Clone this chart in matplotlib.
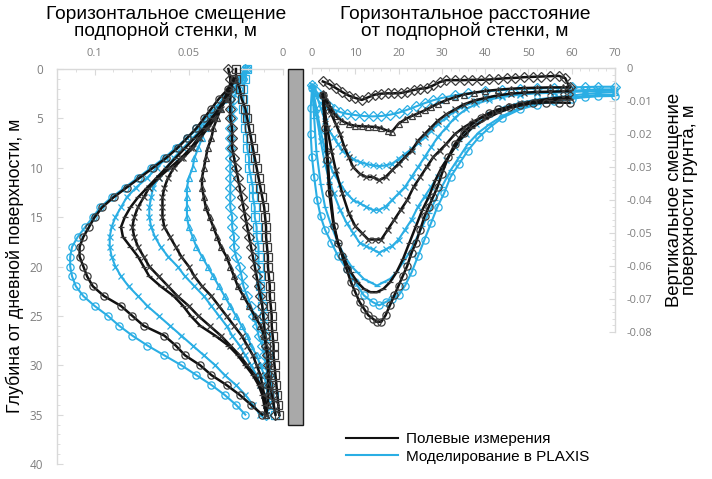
import numpy as np
import matplotlib
matplotlib.use("Agg")
import matplotlib.pyplot as plt
from matplotlib.lines import Line2D
from matplotlib.patches import Rectangle
from matplotlib.ticker import MultipleLocator

nan = np.nan

# ---------------- wall deflection profiles (left panel) ----------------
depth = [0, 1, 2, 3, 4, 5, 6, 7, 8, 9, 10, 11, 12, 13, 14, 15, 16, 17,
         18, 19, 20, 21, 22, 23, 24, 25, 26, 27, 28, 29, 30, 31, 32, 33, 34, 35]

wall_sq_meas = [0.025, 0.025, 0.023, 0.022, 0.020, 0.019, 0.018, 0.017, 0.016, 0.015, 0.014, 0.013,
                0.012, 0.011, 0.010, 0.0095, 0.009, 0.009, 0.0085, 0.008, 0.008, 0.0075, 0.007, 0.007,
                0.0065, 0.006, 0.006, 0.0055, 0.005, 0.005, 0.0045, 0.004, 0.0035, 0.003, 0.0025, 0.002]
wall_sq_fem = [0.019, 0.020, 0.021, 0.021, 0.021, 0.020, 0.020, 0.019, 0.019, 0.018, 0.018, 0.017,
               0.016, 0.016, 0.015, 0.015, 0.014, 0.014, 0.013, 0.013, 0.013, 0.012, 0.012, 0.011,
               0.011, 0.010, 0.010, 0.009, 0.009, 0.008, 0.007, 0.007, 0.006, 0.005, 0.005, 0.004]
wall_dia_meas = [0.029, 0.028, 0.028, 0.028, 0.028, 0.028, 0.027, 0.027, 0.027, 0.026, 0.025, 0.024,
                 0.023, 0.022, 0.021, 0.020, 0.019, 0.018, 0.017, 0.016, 0.015, 0.014, 0.013, 0.012,
                 0.011, 0.0105, 0.010, 0.0095, 0.009, 0.0085, 0.008, 0.0075, 0.007, 0.006, 0.005, 0.004]
wall_dia_fem = [0.020, 0.022, 0.024, 0.026, 0.027, 0.027, 0.028, 0.028, 0.028, 0.028, 0.028, 0.028,
                0.028, 0.028, 0.028, 0.027, 0.027, 0.026, 0.026, 0.025, 0.023, 0.022, 0.021, 0.019,
                0.017, 0.016, 0.014, 0.013, 0.011, 0.010, 0.009, 0.008, 0.008, 0.008, 0.008, 0.009]
wall_tri_meas = [nan, 0.027, 0.029, 0.031, 0.033, 0.035, 0.037, 0.038, 0.040, 0.041, 0.042, 0.043,
                 0.043, 0.042, 0.041, 0.039, 0.037, 0.035, 0.033, 0.030, 0.028, 0.026, 0.024, 0.021,
                 0.018, 0.015, 0.012, 0.010, 0.009, 0.008, 0.008, 0.008, 0.008, 0.008, 0.008, 0.009]
wall_tri_fem = [0.020, 0.024, 0.028, 0.032, 0.036, 0.039, 0.041, 0.043, 0.045, 0.047, 0.048, 0.050,
                0.051, 0.051, 0.051, 0.051, 0.050, 0.048, 0.046, 0.043, 0.040, 0.037, 0.034, 0.031,
                0.028, 0.025, 0.022, 0.019, 0.017, 0.014, 0.012, 0.010, 0.009, 0.008, 0.008, 0.009]
wall_x1_meas = [nan, 0.026, 0.028, 0.030, 0.033, 0.036, 0.040, 0.044, 0.048, 0.053, 0.058, 0.061,
                0.063, 0.064, 0.064, 0.064, 0.063, 0.060, 0.057, 0.054, 0.050, 0.047, 0.043, 0.038,
                0.034, 0.030, 0.026, 0.022, 0.019, 0.016, 0.014, 0.012, 0.011, 0.010, 0.009, 0.009]
wall_x1_fem = [0.020, 0.023, 0.026, 0.030, 0.034, 0.038, 0.043, 0.048, 0.053, 0.058, 0.062, 0.066,
               0.069, 0.070, 0.071, 0.071, 0.070, 0.068, 0.065, 0.061, 0.056, 0.052, 0.047, 0.042,
               0.038, 0.034, 0.030, 0.027, 0.023, 0.020, 0.017, 0.014, 0.012, 0.010, 0.009, 0.009]
wall_x2_meas = [nan, 0.026, 0.028, 0.031, 0.034, 0.037, 0.041, 0.045, 0.049, 0.054, 0.060, 0.066,
                0.071, 0.074, 0.077, 0.079, 0.080, 0.079, 0.077, 0.074, 0.071, 0.066, 0.061, 0.056,
                0.050, 0.045, 0.039, 0.033, 0.028, 0.023, 0.019, 0.015, 0.012, 0.010, 0.009, 0.009]
wall_x2_fem = [0.020, 0.022, 0.025, 0.029, 0.034, 0.039, 0.045, 0.051, 0.057, 0.062, 0.067, 0.072,
               0.078, 0.083, 0.086, 0.089, 0.091, 0.092, 0.092, 0.091, 0.089, 0.086, 0.082, 0.077,
               0.072, 0.066, 0.060, 0.054, 0.048, 0.042, 0.036, 0.031, 0.025, 0.020, 0.016, 0.012]
wall_dash_meas = [nan, 0.026, 0.028, 0.031, 0.034, 0.038, 0.042, 0.047, 0.052, 0.057, 0.062, 0.067,
                  0.072, 0.077, 0.081, 0.084, 0.086, 0.085, 0.081, 0.077, 0.074, 0.071, 0.065, 0.058,
                  0.053, 0.049, 0.044, 0.036, 0.029, 0.024, 0.020, 0.016, 0.013, 0.011, 0.010, 0.009]
wall_circ_meas = [nan, 0.026, 0.029, 0.034, 0.038, 0.042, 0.046, 0.051, 0.056, 0.062, 0.069, 0.076,
                  0.083, 0.090, 0.096, 0.100, 0.103, 0.106, 0.108, 0.108, 0.106, 0.104, 0.101, 0.095,
                  0.086, 0.080, 0.074, 0.063, 0.057, 0.052, 0.044, 0.038, 0.030, 0.023, 0.017, 0.011]
wall_circ_fem = [0.019, 0.021, 0.025, 0.031, 0.036, 0.041, 0.046, 0.051, 0.057, 0.063, 0.070, 0.077,
                 0.084, 0.091, 0.097, 0.101, 0.105, 0.109, 0.112, 0.113, 0.113, 0.112, 0.110, 0.106,
                 0.100, 0.093, 0.087, 0.080, 0.072, 0.063, 0.054, 0.046, 0.038, 0.031, 0.025, 0.020]

wall_depth = 36

# ---------------- surface settlement troughs (right panel) ----------------
dia_meas_x = [2.5, 4, 5.5, 7, 8.5, 10, 11.5, 13, 14.5, 16, 17.5, 19, 20.5, 22, 23.5, 25, 26.5, 28,
              29.5, 31, 33, 35, 37, 39, 41, 43, 45, 47, 49, 51, 53, 55, 57, 58.5, 59.5]
dia_meas_y = [-0.0040, -0.0048, -0.0060, -0.0072, -0.0083, -0.0090, -0.0096, -0.0088, -0.0080,
              -0.0077, -0.0076, -0.0076, -0.0075, -0.0071, -0.0066, -0.0062, -0.0060, -0.0052,
              -0.0042, -0.0036, -0.0036, -0.0036, -0.0035, -0.0035, -0.0034, -0.0032, -0.0030,
              -0.0029, -0.0027, -0.0026, -0.0025, -0.0024, -0.0023, -0.0030, -0.0058]
tri_meas_x = [2.5, 3.5, 4.5, 5.5, 7, 8.5, 10, 11.5, 13, 14.5, 16, 17.5, 18.5, 20, 21.5, 23, 24.5,
              26, 27.5, 29, 31, 33, 35, 37.5, 40, 43, 46, 49, 52, 55, 58, 59.5]
tri_meas_y = [-0.0075, -0.0100, -0.0125, -0.0145, -0.0160, -0.0170, -0.0175, -0.0176, -0.0177,
              -0.0178, -0.0182, -0.0190, -0.0192, -0.0168, -0.0155, -0.0145, -0.0137, -0.0128,
              -0.0118, -0.0108, -0.0097, -0.0088, -0.0080, -0.0074, -0.0069, -0.0065, -0.0062,
              -0.0060, -0.0059, -0.0058, -0.0058, -0.0058]
x1_meas_x = [2.5, 3.5, 4.5, 5.5, 6.5, 7.5, 8.5, 9.5, 11, 12.5, 14, 15.5, 17, 18.5, 20, 21.5, 23,
             24.5, 26, 27.5, 29, 31, 33, 35, 37.5, 40, 43, 46, 49, 52, 55, 58, 59.5]
x1_meas_y = [-0.008, -0.011, -0.014, -0.017, -0.020, -0.024, -0.027, -0.030, -0.032, -0.033,
             -0.033, -0.034, -0.033, -0.031, -0.029, -0.027, -0.025, -0.022, -0.020, -0.018,
             -0.016, -0.014, -0.0125, -0.011, -0.0098, -0.0090, -0.0082, -0.0077, -0.0074,
             -0.0072, -0.0071, -0.0070, -0.0070]
x2_meas_x = [2.5, 3, 3.5, 4.5, 5.5, 7, 8.5, 10, 11.5, 13, 14.5, 16, 17.5, 19, 20.5, 22, 23.5, 25,
             26.5, 28, 29.5, 31, 33, 35, 37.5, 40, 43, 46, 49, 52, 55, 58, 59.5]
x2_meas_y = [-0.008, -0.013, -0.018, -0.025, -0.031, -0.038, -0.044, -0.048, -0.050, -0.052,
             -0.052, -0.052, -0.049, -0.046, -0.043, -0.040, -0.036, -0.033, -0.030, -0.027,
             -0.025, -0.023, -0.020, -0.018, -0.016, -0.0145, -0.013, -0.0115, -0.0105, -0.0098,
             -0.0092, -0.0088, -0.0088]
dash_meas_x = [2.5, 3, 3.5, 4, 5, 6, 7.5, 9, 10.5, 12, 13.5, 15, 16.5, 18, 19.5, 21, 22.5, 24,
               25.5, 27, 28.5, 30, 32, 34, 37, 40, 43, 46, 49, 52, 55, 58, 59.5]
dash_meas_y = [-0.008, -0.016, -0.025, -0.035, -0.047, -0.053, -0.058, -0.062, -0.065, -0.067,
               -0.068, -0.068, -0.067, -0.065, -0.062, -0.058, -0.053, -0.048, -0.043, -0.039,
               -0.034, -0.030, -0.026, -0.022, -0.018, -0.0155, -0.0135, -0.012, -0.011, -0.0102,
               -0.0097, -0.0094, -0.0094]
circ_meas_x = [2.5, 3, 3.5, 4, 5, 6, 7, 8, 9, 10, 11, 12, 13, 14, 15, 16, 17, 18, 19, 20, 21, 22,
               23, 24, 25, 26, 27, 28, 29, 30, 31.5, 33, 35, 37, 39, 41, 43, 45.5, 48, 51, 54, 57, 59.5]
circ_meas_y = [-0.008, -0.018, -0.028, -0.038, -0.048, -0.053, -0.057, -0.061, -0.065, -0.068,
               -0.071, -0.073, -0.075, -0.076, -0.077, -0.077, -0.075, -0.072, -0.069, -0.066,
               -0.063, -0.060, -0.056, -0.053, -0.049, -0.045, -0.042, -0.039, -0.036, -0.032,
               -0.027, -0.023, -0.0195, -0.017, -0.015, -0.0135, -0.0125, -0.0117, -0.011,
               -0.0106, -0.0104, -0.0104, -0.0105]

dia_fem_x = [0, 1, 2, 3, 4, 5, 6.5, 8, 10, 12, 14, 16, 18, 20, 22, 24, 26, 28, 30, 33, 36, 40, 44,
             48, 52, 56, 60, 63, 66, 70]
dia_fem_y = [-0.005, -0.007, -0.009, -0.0105, -0.0115, -0.0125, -0.0133, -0.0138, -0.0142,
             -0.0145, -0.0146, -0.0145, -0.0141, -0.0135, -0.0126, -0.0116, -0.0106, -0.0097,
             -0.0090, -0.0082, -0.0076, -0.0070, -0.0066, -0.0063, -0.0061, -0.0060, -0.0058,
             -0.0057, -0.0056, -0.0056]
x1_fem_x = [0, 1, 2, 3, 4, 5, 6, 7, 8, 9.5, 11, 12.5, 14, 15.5, 17, 18.5, 20, 21.5, 23, 24.5, 26,
            27.5, 29, 31, 33, 35, 38, 41, 44, 48, 52, 56, 60, 63, 66, 70]
x1_fem_y = [-0.005, -0.008, -0.012, -0.016, -0.019, -0.021, -0.023, -0.025, -0.026, -0.0275,
            -0.0285, -0.029, -0.0295, -0.0297, -0.0295, -0.029, -0.0275, -0.026, -0.0245, -0.0228,
            -0.021, -0.019, -0.017, -0.015, -0.013, -0.0115, -0.0100, -0.0090, -0.0083, -0.0077,
            -0.0074, -0.0072, -0.0068, -0.0066, -0.0064, -0.0064]
x2_fem_x = [0, 1, 2, 3, 4, 5, 6.5, 8, 9.5, 11, 12.5, 14, 15.5, 17, 18.5, 20, 21.5, 23, 24.5, 26,
            27.5, 29, 31, 33, 35.5, 38, 41, 44, 48, 52, 56, 60, 63, 66, 70]
x2_fem_y = [-0.005, -0.012, -0.019, -0.025, -0.029, -0.032, -0.035, -0.038, -0.040, -0.041,
            -0.042, -0.043, -0.043, -0.042, -0.040, -0.038, -0.036, -0.033, -0.030, -0.027,
            -0.024, -0.021, -0.018, -0.015, -0.0125, -0.0108, -0.0095, -0.0087, -0.0080,
            -0.0076, -0.0074, -0.0072, -0.0070, -0.0069, -0.0068]
x3_fem_x = [0, 1, 2, 3, 4, 5, 6.5, 8, 9.5, 11, 12.5, 14, 15.5, 17, 18.5, 20, 21.5, 23, 24.5, 26,
            27.5, 29, 31, 33, 35.5, 38, 41, 44, 48, 52, 56, 60, 63, 66, 70]
x3_fem_y = [-0.006, -0.014, -0.022, -0.029, -0.034, -0.038, -0.043, -0.047, -0.050, -0.053,
            -0.054, -0.055, -0.056, -0.055, -0.054, -0.052, -0.049, -0.046, -0.042, -0.039,
            -0.036, -0.033, -0.028, -0.024, -0.020, -0.017, -0.014, -0.012, -0.0105, -0.0095,
            -0.0088, -0.0083, -0.0078, -0.0075, -0.0072]
dash_fem_x = [0, 0.5, 1, 2, 3, 4.5, 6, 7.5, 9, 10.5, 12, 13.5, 15, 16.5, 18, 19.5, 21, 22.5, 24,
              25.5, 27, 28.5, 30, 32, 34, 36, 38.5, 41, 44, 48, 52, 56, 60, 63, 66, 70]
dash_fem_y = [-0.005, -0.015, -0.025, -0.035, -0.042, -0.048, -0.053, -0.057, -0.060, -0.062,
              -0.064, -0.065, -0.066, -0.065, -0.064, -0.062, -0.059, -0.056, -0.052, -0.048,
              -0.044, -0.040, -0.036, -0.031, -0.027, -0.023, -0.0195, -0.017, -0.0145, -0.012,
              -0.0105, -0.0095, -0.0088, -0.0084, -0.0081, -0.0080]
circ_fem_x = [0, -0.3, -0.3, 0, 0.5, 1.2, 2, 3, 4.5, 6, 8, 10, 12, 14, 15.5, 17, 18.5, 20, 21.5,
              23, 24.5, 26, 27.5, 29, 30.5, 32, 34, 36, 38.5, 41, 44, 48, 52, 56, 60, 63, 66, 70]
circ_fem_y = [-0.006, -0.012, -0.020, -0.027, -0.033, -0.040, -0.045, -0.049, -0.053, -0.057,
              -0.061, -0.065, -0.069, -0.071, -0.072, -0.071, -0.070, -0.069, -0.066, -0.062,
              -0.057, -0.052, -0.047, -0.042, -0.038, -0.033, -0.029, -0.025, -0.021, -0.018,
              -0.015, -0.0125, -0.011, -0.010, -0.0092, -0.0088, -0.0085, -0.0084]

# axis ticks and labels
left_xticks = [0.1, 0.05, 0]
left_xticklabels = ["0.1", "0.05", "0"]
left_yticks = [0, 5, 10, 15, 20, 25, 30, 35, 40]
right_xticks = [0, 10, 20, 30, 40, 50, 60, 70]
right_yticks = [0, -0.01, -0.02, -0.03, -0.04, -0.05, -0.06, -0.07, -0.08]
right_yticklabels = ["0", "-0.01", "-0.02", "-0.03", "-0.04", "-0.05", "-0.06", "-0.07", "-0.08"]

legend_labels = ["Полевые измерения", "Моделирование в PLAXIS"]

# ---------------- styling ----------------
BLACK = "#111111"
MARK_EDGE = "#3c3c3c"
BLUE = "#2AAEE4"
SPINE = "#D9D9D9"
TICKTXT = "#7F7F7F"
TEXT_FONT = ["Liberation Sans", "DejaVu Sans"]
TICK_FONT = ["Open Sans", "DejaVu Sans"]

W, H = 712, 479
fig = plt.figure(figsize=(W / 100, H / 100), dpi=100)
fig.patch.set_facecolor("white")

axL = fig.add_axes([57 / W, 1 - 464 / H, 226 / W, 395 / H])
axR = fig.add_axes([312 / W, 1 - 331.7 / H, 303 / W, 263.4 / H])


def draw(ax, x, y, marker, color, ms, lw, edge, z):
    ax.plot(x, y, color=color, lw=lw, marker=marker, ms=ms, mfc="none",
            mec=edge, mew=0.9, zorder=z, clip_on=False)


# left panel: PLAXIS first, field data on top
fem_left = [(wall_sq_fem, "s"), (wall_dia_fem, "D"), (wall_tri_fem, "^"),
            (wall_x1_fem, "x"), (wall_x2_fem, "x"), (wall_circ_fem, "o")]
meas_left = [(wall_sq_meas, "s"), (wall_dia_meas, "D"), (wall_tri_meas, "^"),
             (wall_x1_meas, "x"), (wall_x2_meas, "x"), (wall_dash_meas, "_"),
             (wall_circ_meas, "o")]
for vals, m in fem_left:
    draw(axL, vals, depth, m, BLUE, 5.2 if m in "so" else 4.6, 1.5, BLUE, 2)
for vals, m in meas_left:
    draw(axL, vals, depth, m, BLACK, 5.2 if m in "so" else 4.6, 1.8, MARK_EDGE, 3)

axL.set_xlim(0.12, 0)
axL.set_ylim(40, 0)
axL.xaxis.tick_top()
axL.set_xticks(left_xticks)
axL.set_xticklabels(left_xticklabels)
axL.xaxis.set_minor_locator(MultipleLocator(0.01))
axL.set_yticks(left_yticks)
axL.set_yticklabels([str(v) for v in left_yticks])
axL.yaxis.set_minor_locator(MultipleLocator(1))
for s in ("right", "bottom"):
    axL.spines[s].set_visible(False)
for s in ("left", "top"):
    axL.spines[s].set_color(SPINE)
    axL.spines[s].set_linewidth(1.0)
axL.tick_params(axis="x", which="major", direction="in", length=4, color=SPINE, pad=7,
                labelsize=8, labelcolor=TICKTXT)
axL.tick_params(axis="y", which="major", direction="in", length=4, color=SPINE, pad=10,
                labelsize=8.5, labelcolor=TICKTXT)
axL.tick_params(which="minor", direction="in", length=2.5, color=SPINE)

# retaining wall
axL.add_patch(Rectangle((-0.0106, 0), 0.0079, wall_depth, facecolor="#A9A9A9",
                        edgecolor="#1a1a1a", lw=1.0, clip_on=False, zorder=1))

# right panel
fem_right = [(dia_fem_x, dia_fem_y, "D"), (x1_fem_x, x1_fem_y, "x"), (x2_fem_x, x2_fem_y, "x"),
             (x3_fem_x, x3_fem_y, "x"), (dash_fem_x, dash_fem_y, "_"),
             (circ_fem_x, circ_fem_y, "o")]
meas_right = [(dia_meas_x, dia_meas_y, "D"), (tri_meas_x, tri_meas_y, "^"),
              (x1_meas_x, x1_meas_y, "x"), (x2_meas_x, x2_meas_y, "x"),
              (dash_meas_x, dash_meas_y, "_"), (circ_meas_x, circ_meas_y, "o")]
for x, y, m in fem_right:
    draw(axR, x, y, m, BLUE, 5.2 if m in "so" else 4.6, 1.5, BLUE, 2)
for x, y, m in meas_right:
    draw(axR, x, y, m, BLACK, 5.2 if m in "so" else 4.6, 1.8, MARK_EDGE, 3)

axR.set_xlim(0, 70)
axR.set_ylim(-0.08, 0)
axR.xaxis.tick_top()
axR.yaxis.tick_right()
axR.set_xticks(right_xticks)
axR.set_xticklabels([str(v) for v in right_xticks])
axR.xaxis.set_minor_locator(MultipleLocator(2))
axR.set_yticks(right_yticks)
axR.set_yticklabels(right_yticklabels)
axR.yaxis.set_minor_locator(MultipleLocator(0.002))
for s in ("left", "bottom"):
    axR.spines[s].set_visible(False)
for s in ("right", "top"):
    axR.spines[s].set_color(SPINE)
    axR.spines[s].set_linewidth(1.0)
axR.tick_params(axis="x", which="major", direction="in", length=4, color=SPINE, pad=7,
                labelsize=8, labelcolor=TICKTXT)
axR.tick_params(axis="y", which="major", direction="in", length=4, color=SPINE, pad=8,
                labelsize=8, labelcolor=TICKTXT)
axR.tick_params(which="minor", direction="in", length=2.5, color=SPINE)

for ax in (axL, axR):
    ax.set_facecolor("none")
    for lab in ax.get_xticklabels() + ax.get_yticklabels():
        lab.set_fontfamily(TICK_FONT)

# axis titles
fig.text(166 / W, 1 - 23 / H, "Горизонтальное смещение\nподпорной стенки, м",
         ha="center", va="center", fontsize=13.8, linespacing=0.92, family=TEXT_FONT)
fig.text(465 / W, 1 - 23 / H, "Горизонтальное расстояние\nот подпорной стенки, м",
         ha="center", va="center", fontsize=13.8, linespacing=0.92, family=TEXT_FONT)
fig.text(15 / W, 1 - 266 / H, "Глубина от дневной поверхности, м", rotation=90,
         ha="center", va="center", fontsize=12.8, family=TEXT_FONT)
fig.text(682 / W, 1 - 200 / H, "Вертикальное смещение\nповерхности грунта, м", rotation=90,
         ha="center", va="center", fontsize=13.3, linespacing=0.92, family=TEXT_FONT)

# legend
handles = [Line2D([], [], color=BLACK, lw=1.5), Line2D([], [], color=BLUE, lw=1.5)]
leg = fig.legend(handles, legend_labels, loc="center left",
                 bbox_to_anchor=(346 / W, 1 - 448 / H), frameon=False,
                 handlelength=3.4, handletextpad=0.55, labelspacing=0.2, borderpad=0,
                 borderaxespad=0, prop={"family": TEXT_FONT, "size": 11})

fig.savefig("out.png", dpi=100)
